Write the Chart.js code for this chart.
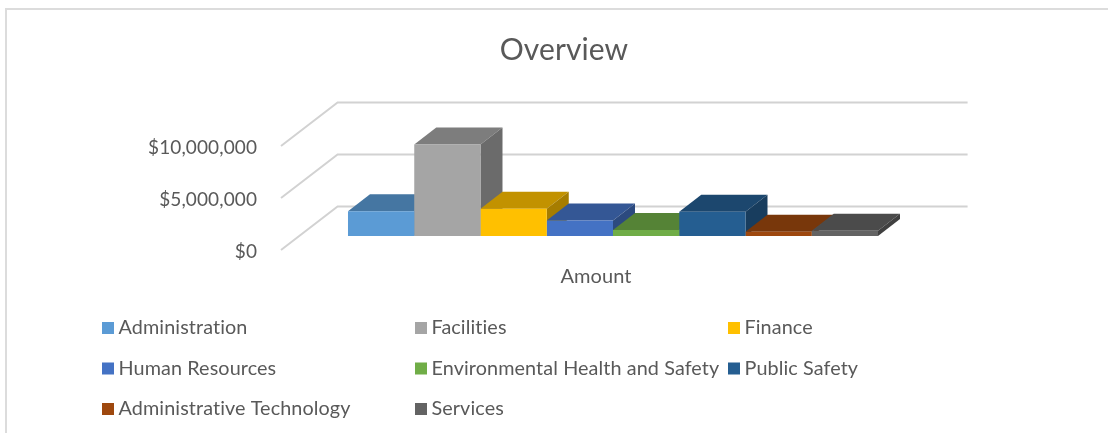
<!DOCTYPE html>
<html>
<head>
<meta charset="utf-8">
<title>Overview</title>
<script src="https://cdn.jsdelivr.net/npm/chart.js@4"></script>
<style>
    html, body { margin: 0; padding: 0; background: #fff; overflow: hidden; }
    #frame { position: absolute; left: 5px; top: 8px; width: 1200px; height: 600px; border: 2px solid #dcdcdc; }
    #overview { position: absolute; left: 0; top: 0; }
</style>
</head>
<body>
<div id="frame"></div>
<canvas id="overview" width="1108" height="433"></canvas>
<script>
const categories = ['Amount'];
const departments = [
    'Administration', 'Facilities', 'Finance',
    'Human Resources', 'Environmental Health and Safety', 'Public Safety',
    'Administrative Technology', 'Services'
];
const amounts = [2370000, 8800000, 2630000, 1500000, 580000, 2340000, 410000, 500000];
const departmentColors = ['#5b9bd5', '#a5a5a5', '#ffc000', '#4472c4', '#70ad47', '#255e91', '#9e480e', '#636363'];
const yTicks = [0, 5000000, 10000000];

const textColor = '#595959';
const fontFamily = 'Lato';
const wall = { dx: 56.6, dy: 43.5 };   // how far the back wall sits from the front of the floor
const barOffset = { dx: 17, dy: 14 };  // front face of the bars, measured from the front of the floor
const barDepth = { dx: 22, dy: 17 };

function shade(hex, factor) {
    const n = parseInt(hex.slice(1), 16);
    const r = Math.round((n >> 16 & 255) * factor);
    const g = Math.round((n >> 8 & 255) * factor);
    const b = Math.round((n & 255) * factor);
    return `rgb(${r}, ${g}, ${b})`;
}

function fillFace(ctx, color, points) {
    ctx.fillStyle = color;
    ctx.beginPath();
    points.forEach(p => ctx.lineTo(p[0], p[1]));
    ctx.closePath();
    ctx.fill();
}

// Fake 3D: walls and the top/side of each bar. The front faces stay normal Chart.js bars.
const depthPlugin = {
    id: 'depth',
    afterLayout(chart) {
        // the title sits off centre: this puts its middle at x = 564
        chart.titleBlock.left = 217;
    },
    beforeDraw(chart) {
        chart.ctx.letterSpacing = '0.1px'; // also turns off Lato's "ti" ligature
    },
    beforeDatasetsDraw(chart) {
        const { ctx, chartArea, scales } = chart;
        ctx.save();
        ctx.strokeStyle = '#d2d2d2';
        ctx.lineWidth = 2;
        yTicks.forEach(value => {
            const y = Math.round(scales.y.getPixelForValue(value));
            ctx.beginPath();
            ctx.moveTo(chartArea.left, y);
            ctx.lineTo(chartArea.left + wall.dx, y - wall.dy);
            ctx.lineTo(chartArea.right + wall.dx, y - wall.dy);
            ctx.stroke();
        });
        ctx.restore();

        ctx.save();
        ctx.translate(barOffset.dx, -barOffset.dy);
        chart.data.datasets.forEach((dataset, i) => {
            const bar = chart.getDatasetMeta(i).data[0];
            const left = bar.x - bar.width / 2;
            const right = bar.x + bar.width / 2;
            const d = barDepth;
            fillFace(ctx, shade(dataset.backgroundColor, 0.76), [
                [left, bar.y], [left + d.dx, bar.y - d.dy], [right + d.dx, bar.y - d.dy], [right, bar.y]
            ]);
            fillFace(ctx, shade(dataset.backgroundColor, 0.65), [
                [right, bar.y], [right + d.dx, bar.y - d.dy], [right + d.dx, bar.base - d.dy], [right, bar.base]
            ]);
        });
    },
    afterDatasetsDraw(chart) {
        chart.ctx.restore();
    }
};

// Chart.js legend can't line its items up in columns, so it is drawn here
const columnLegendPlugin = {
    id: 'columnLegend',
    afterDraw(chart) {
        const { ctx } = chart;
        const columns = [102, 415, 728];
        const rows = [328, 368.5, 409];
        ctx.save();
        ctx.font = `19.8px ${fontFamily}`;
        ctx.textBaseline = 'middle';
        chart.data.datasets.forEach((dataset, i) => {
            const x = columns[i % 3];
            const y = rows[Math.floor(i / 3)];
            ctx.fillStyle = dataset.backgroundColor;
            ctx.fillRect(x, y - 6, 12, 12);
            ctx.fillStyle = textColor;
            ctx.fillText(dataset.label, x + 16.5, y);
        });
        ctx.restore();
    }
};

const datasets = departments.map((name, i) => ({
    label: name,
    data: [amounts[i]],
    backgroundColor: departmentColors[i],
    clip: false
}));

new Chart(document.getElementById('overview'), {
    type: 'bar',
    data: { labels: categories, datasets: datasets },
    plugins: [depthPlugin, columnLegendPlugin],
    options: {
        responsive: false,
        animation: false,
        barPercentage: 1,
        categoryPercentage: 0.8413,
        layout: { padding: { left: 0, right: 197, top: 0, bottom: 133 } },
        plugins: {
            legend: { display: false },
            tooltip: { enabled: false },
            title: {
                display: true,
                text: 'Overview',
                color: textColor,
                font: { family: fontFamily, size: 30, weight: 'normal', lineHeight: 1.2 },
                padding: { top: 32, bottom: 78 }
            }
        },
        scales: {
            x: {
                grid: { display: false, drawTicks: false },
                border: { display: false },
                afterFit(scale) { scale.height = 50; },
                ticks: {
                    color: textColor,
                    font: { family: fontFamily, size: 20 },
                    padding: 15,
                    maxRotation: 0
                }
            },
            y: {
                min: 0,
                max: 10000000,
                grid: { display: false, drawTicks: false },
                border: { display: false },
                afterFit(scale) { scale.width = 281; },
                afterBuildTicks(scale) { scale.ticks = yTicks.map(v => ({ value: v })); },
                ticks: {
                    color: textColor,
                    font: { family: fontFamily, size: 19 },
                    padding: 24,
                    labelOffset: 1.5,
                    callback: value => '$' + value.toLocaleString('en-US')
                }
            }
        }
    }
});
</script>
</body>
</html>
